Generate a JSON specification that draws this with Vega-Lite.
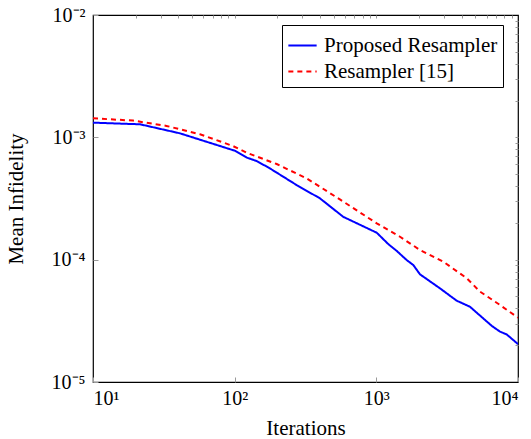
{
  "$schema": "https://vega.github.io/schema/vega-lite/v6.json",
  "width": 425,
  "height": 367,
  "autosize": "none",
  "padding": {"left": 93, "top": 15, "right": 13, "bottom": 57},
  "config": {
    "font": "Liberation Serif, Times New Roman, serif",
    "view": {"stroke": "black", "strokeWidth": 1.2},
    "axis": {
      "domain": false,
      "grid": false,
      "tickColor": "#999999",
      "tickSize": -5,
      "tickWidth": 1,
      "labelFont": "Liberation Serif, Times New Roman, serif",
      "labelFontSize": 20,
      "labelColor": "black",
      "titleFont": "Liberation Serif, Times New Roman, serif",
      "titleFontSize": 21,
      "titleFontWeight": "normal",
      "titleColor": "black"
    },
    "legend": {
      "labelFont": "Liberation Serif, Times New Roman, serif"
    }
  },
  "data": {
    "values": [
      {"series": "Proposed Resampler", "iter": 10, "infid": 0.001318},
      {"series": "Proposed Resampler", "iter": 21.5, "infid": 0.001278},
      {"series": "Proposed Resampler", "iter": 41, "infid": 0.001079},
      {"series": "Proposed Resampler", "iter": 100, "infid": 0.000778},
      {"series": "Proposed Resampler", "iter": 122, "infid": 0.000682},
      {"series": "Proposed Resampler", "iter": 143, "infid": 0.00064},
      {"series": "Proposed Resampler", "iter": 177, "infid": 0.000558},
      {"series": "Proposed Resampler", "iter": 274, "infid": 0.000407},
      {"series": "Proposed Resampler", "iter": 400, "infid": 0.000317},
      {"series": "Proposed Resampler", "iter": 584, "infid": 0.000224},
      {"series": "Proposed Resampler", "iter": 1007, "infid": 0.000166},
      {"series": "Proposed Resampler", "iter": 1215, "infid": 0.000134},
      {"series": "Proposed Resampler", "iter": 1392, "infid": 0.000118},
      {"series": "Proposed Resampler", "iter": 1637, "infid": 0.0000993},
      {"series": "Proposed Resampler", "iter": 1823, "infid": 0.0000904},
      {"series": "Proposed Resampler", "iter": 2032, "infid": 0.0000759},
      {"series": "Proposed Resampler", "iter": 2813, "infid": 0.0000583},
      {"series": "Proposed Resampler", "iter": 3690, "infid": 0.0000462},
      {"series": "Proposed Resampler", "iter": 4581, "infid": 0.0000412},
      {"series": "Proposed Resampler", "iter": 6519, "infid": 0.0000288},
      {"series": "Proposed Resampler", "iter": 7464, "infid": 0.0000258},
      {"series": "Proposed Resampler", "iter": 8318, "infid": 0.0000245},
      {"series": "Proposed Resampler", "iter": 10000, "infid": 0.0000204},
      {"series": "Resampler [15]", "iter": 10, "infid": 0.00143},
      {"series": "Resampler [15]", "iter": 19.2, "infid": 0.00137},
      {"series": "Resampler [15]", "iter": 33, "infid": 0.00124},
      {"series": "Resampler [15]", "iter": 56.9, "infid": 0.00106},
      {"series": "Resampler [15]", "iter": 97.3, "infid": 0.000849},
      {"series": "Resampler [15]", "iter": 121.6, "infid": 0.000748},
      {"series": "Resampler [15]", "iter": 198, "infid": 0.000605},
      {"series": "Resampler [15]", "iter": 322, "infid": 0.000462},
      {"series": "Resampler [15]", "iter": 553, "infid": 0.000311},
      {"series": "Resampler [15]", "iter": 1007, "infid": 0.000198},
      {"series": "Resampler [15]", "iter": 1469, "infid": 0.000154},
      {"series": "Resampler [15]", "iter": 2032, "infid": 0.00012},
      {"series": "Resampler [15]", "iter": 2970, "infid": 0.0000962},
      {"series": "Resampler [15]", "iter": 4345, "infid": 0.0000705},
      {"series": "Resampler [15]", "iter": 5395, "infid": 0.0000548},
      {"series": "Resampler [15]", "iter": 7464, "infid": 0.0000426},
      {"series": "Resampler [15]", "iter": 10000, "infid": 0.0000335}
    ]
  },
  "layer": [
    {
      "mark": {"type": "line", "strokeWidth": 2, "clip": true},
      "encoding": {
        "x": {
          "field": "iter", "type": "quantitative",
          "scale": {"type": "log", "domain": [10, 10000], "nice": false},
          "axis": {
            "title": "Iterations",
            "orient": "bottom",
            "values": [10, 100, 1000, 10000],
            "labelExpr": "datum.value==10?'10¹':datum.value==100?'10²':datum.value==1000?'10³':datum.value==10000?'10⁴':''",
            "labelPadding": 11,
            "titlePadding": 9
          }
        },
        "y": {
          "field": "infid", "type": "quantitative",
          "scale": {"type": "log", "domain": [0.00001, 0.01], "nice": false},
          "axis": {
            "title": "Mean Infidelity",
            "orient": "left",
            "values": [0.00001, 0.0001, 0.001, 0.01],
            "labelExpr": "datum.value==0.00001?'10⁻⁵':datum.value==0.0001?'10⁻⁴':datum.value==0.001?'10⁻³':datum.value==0.01?'10⁻²':''",
            "labelPadding": 13,
            "titlePadding": 25
          }
        },
        "color": {
          "field": "series", "type": "nominal",
          "scale": {"domain": ["Proposed Resampler", "Resampler [15]"], "range": ["#0000ff", "#ff0000"]},
          "legend": {
            "title": null,
            "orient": "none",
            "legendX": 189,
            "legendY": 10,
            "strokeColor": "black",
            "fillColor": "white",
            "padding": 5,
            "symbolType": "stroke",
            "symbolSize": 800,
            "symbolStrokeWidth": 2,
            "labelFontSize": 21,
            "labelOffset": 6,
            "labelLimit": 400,
            "labelColor": "black",
            "rowPadding": 0
          }
        },
        "strokeDash": {
          "field": "series", "type": "nominal",
          "scale": {"domain": ["Proposed Resampler", "Resampler [15]"], "range": [[1, 0], [5, 4]]},
          "legend": null
        }
      }
    },
    {
      "mark": {"type": "point", "opacity": 0},
      "encoding": {
        "x": {
          "field": "iter", "type": "quantitative",
          "scale": {"type": "log", "domain": [10, 10000], "nice": false},
          "axis": {"orient": "top", "title": null, "labels": false,
            "values": [20, 30, 40, 50, 60, 70, 80, 90, 100, 200, 300, 400, 500, 600, 700, 800, 900, 1000, 2000, 3000, 4000, 5000, 6000, 7000, 8000, 9000],
            "tickSize": -3}
        },
        "y": {
          "field": "infid", "type": "quantitative",
          "scale": {"type": "log", "domain": [0.00001, 0.01], "nice": false},
          "axis": {"orient": "right", "title": null, "labels": false,
            "values": [0.00002, 0.00003, 0.00004, 0.00005, 0.00006, 0.00007, 0.00008, 0.00009, 0.0001, 0.0002, 0.0003, 0.0004, 0.0005, 0.0006, 0.0007, 0.0008, 0.0009, 0.001, 0.002, 0.003, 0.004, 0.005, 0.006, 0.007, 0.008, 0.009],
            "tickSize": -3}
        }
      }
    }
  ],
  "resolve": {"axis": {"x": "independent", "y": "independent"}}
}
